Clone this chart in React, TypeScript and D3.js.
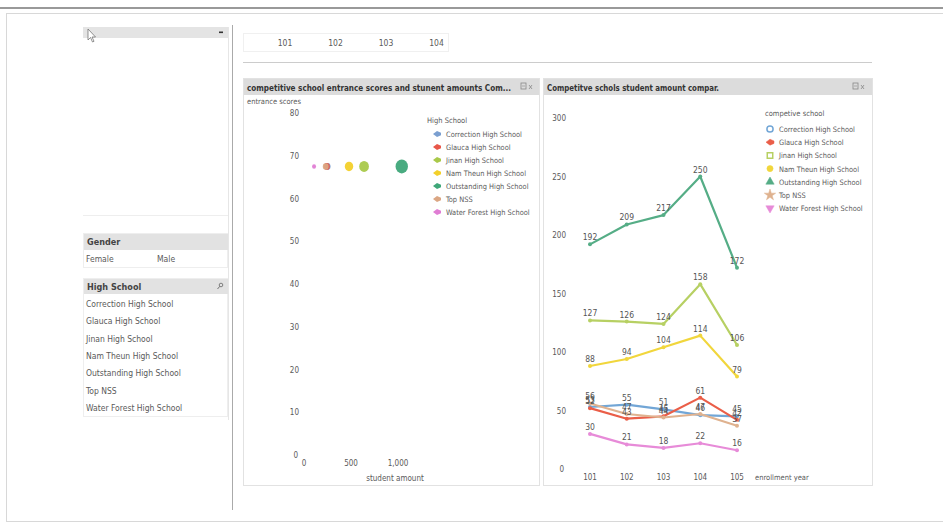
import React from "react";
import * as d3 from "d3";

const years = ["101", "102", "103", "104", "105"];
const schools = [
  "Correction High School",
  "Glauca High School",
  "Jinan High School",
  "Nam Theun High School",
  "Outstanding High School",
  "Top NSS",
  "Water Forest High School",
];
const correction = [53, 55, 51, 46, 45];
const glauca = [52, 43, 45, 61, 42];
const jinan = [127, 126, 124, 158, 106];
const namTheun = [88, 94, 104, 114, 79];
const outstanding = [192, 209, 217, 250, 172];
const topNSS = [56, 47, 44, 47, 37];
const waterForest = [30, 21, 18, 22, 16];
const studentAmounts = [250, 243, 639, 479, 1040, 231, 107];
const entranceScores = [67.5, 67.5, 67.5, 67.5, 67.5, 67.5, 67.5];
const scatterYTicks = [0, 10, 20, 30, 40, 50, 60, 70, 80];
const scatterXTicks = [0, 500, 1000];
const lineYTicks = [0, 50, 100, 150, 200, 250, 300];
const filterYears = ["101", "102", "103", "104"];
const genders = ["Female", "Male"];

const colors = ["#7b9fd0", "#e8574a", "#a9c94a", "#f3d02a", "#3fa779", "#dba683", "#e07dd4"];
const lineColors = ["#72a6d6", "#ea5e48", "#b7d063", "#f1d63c", "#55ad86", "#dfb28f", "#e78bd8"];
const seriesAll = [correction, glauca, jinan, namTheun, outstanding, topNSS, waterForest];

const FONT = "'DejaVu Sans Condensed', 'Liberation Sans Narrow', 'Liberation Sans', sans-serif";
const TXT = "#5a5a5a";

function TitleIcons({ x, y }: { x: number; y: number }) {
  return (
    <g>
      <rect x={x} y={y} width={5} height={6} fill="none" stroke="#888" strokeWidth={0.8} />
      <line x1={x + 1} x2={x + 4} y1={y + 3} y2={y + 3} stroke="#888" strokeWidth={0.6} />
      <path
        d={`M${x + 8},${y + 2} L${x + 11},${y + 6} M${x + 11},${y + 2} L${x + 8},${y + 6}`}
        stroke="#888"
        strokeWidth={0.8}
      />
    </g>
  );
}

export default function App() {
  // scatter scales
  const sx = d3.scaleLinear().domain([0, 1000]).range([304, 398]);
  const sy = d3.scaleLinear().domain([0, 80]).range([455, 113]);
  const sr = d3.scaleSqrt().domain([0, 1040]).range([0, 6.2]);
  // line scales
  const lx = d3.scalePoint<string>().domain(years).range([590, 737]);
  const ly = d3.scaleLinear().domain([0, 300]).range([469, 118]);
  const line = d3
    .line<number>()
    .x((_, i) => lx(years[i]) as number)
    .y((d) => ly(d));

  const arrowPath = "M-4,0 L0,-3 L4,-1.2 L4,1.2 L0,3 Z";
  const symbolTypes = [
    d3.symbolCircle,
    null,
    d3.symbolSquare,
    d3.symbolCircle,
    d3.symbolTriangle,
    d3.symbolStar,
    d3.symbolTriangle,
  ];

  const order = [4, 2, 3, 0, 1, 5, 6];
  const scatterOrder = d3.range(schools.length).sort((a, b) => studentAmounts[b] - studentAmounts[a]);

  return (
    <svg
      width={943}
      height={525}
      style={{ position: "absolute", left: 0, top: 0, background: "#fff" }}
      fontFamily={FONT}
    >
      {/* outer frame */}
      <line x1={0} x2={943} y1={8} y2={8} stroke="#777" strokeWidth={1.5} />
      <rect x={6.5} y={13.5} width={940} height={508} fill="none" stroke="#d8d8d8" />
      <line x1={232.5} x2={232.5} y1={25} y2={510} stroke="#aaa" strokeWidth={1} />

      {/* left panel: dropdown box */}
      <line x1={228.5} x2={228.5} y1={27} y2={420} stroke="#e6e6e6" />
      <line x1={83} x2={228} y1={215.5} y2={215.5} stroke="#eeeeee" />
      <rect x={83} y={27} width={145} height={11} fill="#e4e4e4" />
      <path d="M88,29 L88,40 L90.5,37.5 L92.5,42 L94,41.3 L92,37 L95.5,37 Z" fill="#fff" stroke="#666" strokeWidth={0.7} />
      <rect x={219} y={31.5} width={4} height={1.6} fill="#333" />

      {/* Gender box */}
      <rect x={83.5} y={233.5} width={144} height={34} fill="none" stroke="#eee" />
      <rect x={84} y={234} width={144} height={16} fill="#e2e2e2" />
      <text x={87} y={245} fontSize={9} fontWeight="bold" fill="#444">Gender</text>
      <text x={86} y={262} fontSize={8.5} fill={TXT}>{genders[0]}</text>
      <text x={157} y={262} fontSize={8.5} fill={TXT}>{genders[1]}</text>

      {/* High School box */}
      <rect x={83.5} y={278.5} width={144} height={138} fill="none" stroke="#eee" />
      <rect x={84} y={279} width={144} height={15} fill="#e2e2e2" />
      <text x={87} y={290} fontSize={9} fontWeight="bold" fill="#444">High School</text>
      <circle cx={221} cy={285} r={1.8} fill="none" stroke="#666" strokeWidth={0.8} />
      <line x1={219.8} x2={217.5} y1={286.3} y2={289} stroke="#666" strokeWidth={0.9} />
      {schools.map((s, i) => (
        <text key={s} x={86} y={307 + i * 17.3} fontSize={8.5} fill={TXT}>{s}</text>
      ))}

      {/* top year filter */}
      <rect x={243.5} y={33.5} width={205} height={18} fill="#fff" stroke="#f0f0f0" />
      {filterYears.map((y, i) => (
        <text key={y} x={285 + i * 50.5} y={46} fontSize={8.5} fill={TXT} textAnchor="middle">{y}</text>
      ))}
      <line x1={243} x2={872} y1={62.5} y2={62.5} stroke="#ccc" />

      {/* scatter panel */}
      <rect x={243.5} y={78.5} width={296} height={407} fill="#fff" stroke="#e2e2e2" />
      <rect x={244} y={79} width={295} height={16} fill="#dcdcdc" />
      <text x={247} y={90.5} fontSize={8.6} fontWeight="bold" fill="#333" textLength={264} lengthAdjust="spacingAndGlyphs">
        competitive school entrance scores and stunent amounts Com...
      </text>
      <TitleIcons x={521} y={83} />
      <text x={247} y={104} fontSize={7.5} fill={TXT}>entrance scores</text>
      {scatterYTicks.map((t) => (
        <text key={t} x={t === 0 ? 298 : 299} y={sy(t) + 3} fontSize={8} fill={TXT} textAnchor="end">{t}</text>
      ))}
      {scatterXTicks.map((t) => (
        <text key={t} x={sx(t)} y={466} fontSize={8} fill={TXT} textAnchor="middle">
          {d3.format(",")(t)}
        </text>
      ))}
      <text x={395} y={481} fontSize={8} fill={TXT} textAnchor="middle">student amount</text>
      {scatterOrder.map((i) => (
        <ellipse
          key={i}
          cx={sx(studentAmounts[i])}
          cy={sy(entranceScores[i])}
          rx={sr(studentAmounts[i])}
          ry={sr(studentAmounts[i]) * 1.12}
          fill={colors[i]}
          opacity={0.95}
        />
      ))}
      <text x={427} y={123} fontSize={7.5} fill={TXT}>High School</text>
      {schools.map((s, i) => (
        <g key={s} transform={`translate(0,${134 + i * 13})`}>
          <path d={arrowPath} transform="translate(437,0)" fill={colors[i]} />
          <text x={446} y={3} fontSize={7.4} fill={TXT}>{s}</text>
        </g>
      ))}

      {/* line panel */}
      <rect x={543.5} y={78.5} width={329} height={407} fill="#fff" stroke="#e2e2e2" />
      <rect x={544} y={79} width={328} height={16} fill="#dcdcdc" />
      <text x={547} y={90.5} fontSize={8.6} fontWeight="bold" fill="#333" textLength={172} lengthAdjust="spacingAndGlyphs">
        Competitve schols student amount compar.
      </text>
      <TitleIcons x={853} y={83} />
      {lineYTicks.map((t) => (
        <text key={t} x={t === 0 ? 564 : 566} y={ly(t) + 3} fontSize={8} fill={TXT} textAnchor="end">{t}</text>
      ))}
      {years.map((y) => (
        <text key={y} x={lx(y)} y={480} fontSize={8} fill={TXT} textAnchor="middle">{y}</text>
      ))}
      <text x={755} y={480} fontSize={7.5} fill={TXT}>enrollment year</text>
      {order.map((si) => (
        <g key={si}>
          <path d={line(seriesAll[si]) ?? ""} fill="none" stroke={lineColors[si]} strokeWidth={2.2} strokeLinejoin="round" />
          {seriesAll[si].map((v, j) => (
            <circle key={j} cx={lx(years[j])} cy={ly(v)} r={2} fill={lineColors[si]} />
          ))}
        </g>
      ))}
      {order.map((si) => (
        <g key={"l" + si}>
          {seriesAll[si].map((v, j) => (
            <text key={j} x={lx(years[j])} y={ly(v) - 4} fontSize={8.5} fill="#555" textAnchor="middle">
              {v}
            </text>
          ))}
        </g>
      ))}
      <text x={765} y={116} fontSize={7.5} fill={TXT}>competive school</text>
      {schools.map((s, i) => {
        const st = symbolTypes[i];
        const cy = 129 + i * 13.2;
        const sym = st ? d3.symbol().type(st).size(i === 5 ? 40 : 30)() : arrowPath;
        const rot = i === 6 ? 180 : 0;
        const hollow = i === 0 || i === 2;
        return (
          <g key={s}>
            <path
              d={sym ?? ""}
              transform={`translate(770,${cy}) rotate(${rot})`}
              fill={hollow ? "#fff" : lineColors[i]}
              stroke={lineColors[i]}
              strokeWidth={hollow ? 1.5 : 0.5}
            />
            <text x={779} y={cy + 3} fontSize={7.4} fill={TXT}>{s}</text>
          </g>
        );
      })}
    </svg>
  );
}
